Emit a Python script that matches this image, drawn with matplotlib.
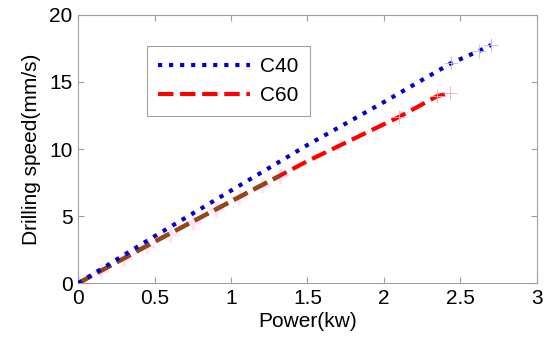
import matplotlib
matplotlib.use("Agg")
import matplotlib.pyplot as plt

plt.rcParams['font.family'] = ['Liberation Sans', 'DejaVu Sans']

# C40 series
power_c40 = [0, 0.5, 1.0, 1.5, 2.0, 2.44, 2.62, 2.7]
speed_c40 = [0, 3.5, 6.9, 10.3, 13.5, 16.4, 17.3, 17.75]

# C60 series
power_c60 = [0, 0.5, 1.0, 1.5, 1.8, 2.1, 2.35, 2.43]
speed_c60 = [0, 3.1, 6.1, 9.1, 10.75, 12.4, 13.95, 14.15]

# overlapping lower part (drawn under C60, not in legend)
power_low = [0, 0.15, 0.3, 0.45, 0.6, 0.75, 0.9, 1.05, 1.2, 1.32]
speed_low = [0, 0.93, 1.85, 2.78, 3.7, 4.6, 5.5, 6.4, 7.3, 8.0]

fig = plt.figure(figsize=(5.5, 3.45), dpi=100)
ax = fig.add_axes([0.142, 0.179, 0.834, 0.778])

ax.plot(power_low, speed_low, '+', color='#ffe2f8', ms=12, mew=2.5, zorder=1)
ax.plot(power_c40, speed_c40, ':', color='#0000d0', lw=3, label='C40', zorder=3)
ax.plot(power_c60, speed_c60, '--', color='#ff0000', lw=3, label='C60', zorder=2)
ax.plot(power_low, speed_low, '--', color='#8b4a1a', lw=3, zorder=2.5)
ax.plot(power_c40[-3:], speed_c40[-3:], '+', color='#b8b8ff', ms=10, mew=0.6, zorder=4)
ax.plot(power_c60[-3:], speed_c60[-3:], '+', color='#ffa8a8', ms=10, mew=0.6, zorder=4)

ax.set_xlim(0, 3)
ax.set_ylim(0, 20)
ax.set_xticks([0, 0.5, 1, 1.5, 2, 2.5, 3])
ax.set_xticklabels(['0', '0.5', '1', '1.5', '2', '2.5', '3'])
ax.set_yticks([0, 5, 10, 15, 20])
ax.tick_params(direction='in', top=True, right=True, labelsize=15,
               color='#a0a0a0', length=4, pad=4)
for s in ax.spines.values():
    s.set_color('#a0a0a0')

ax.set_xlabel('Power(kw)', fontsize=15, labelpad=3)
ax.set_ylabel('Drilling speed(mm/s)', fontsize=15, labelpad=6)

leg = ax.legend(loc='upper left', bbox_to_anchor=(0.15, 0.884), fontsize=15,
                handlelength=4.4, fancybox=False, framealpha=1, borderaxespad=0,
                borderpad=0.55, labelspacing=0.45, handletextpad=0.5)
leg.get_frame().set_edgecolor('#a0a0a0')
leg.get_frame().set_linewidth(0.8)

fig.savefig('out.png', dpi=100)
